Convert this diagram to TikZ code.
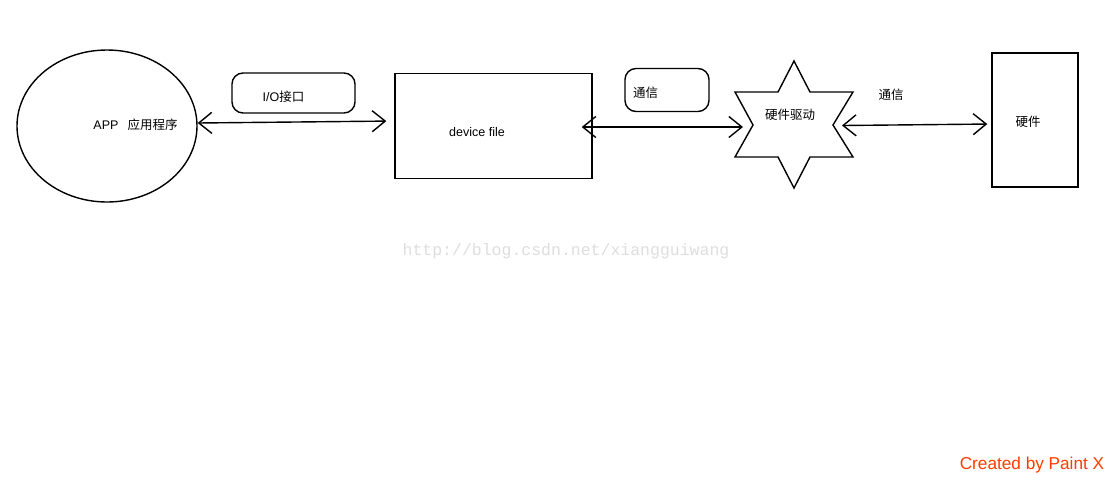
\documentclass[tikz,border=0pt]{standalone}
\usepackage{fontspec}
\setmainfont{Liberation Sans}
\newfontfamily\cjk{Noto Sans CJK SC}
\newfontfamily\wmfont{Liberation Mono}
\usetikzlibrary{shapes.geometric,arrows.meta}
\begin{document}
\begin{tikzpicture}[x=1pt,y=-1pt,
  outline/.style={draw=black,line width=1.4pt},
  lbl/.style={font=\fontsize{12.5}{14}\selectfont,inner sep=0pt},
  pill/.style={outline,rounded corners=11pt,inner sep=0pt},
  biarrow/.style={line width=1.4pt,
    {Straight Barb[length=13pt,width=21pt]}-{Straight Barb[length=13pt,width=21pt]}}]
\useasboundingbox[fill=white] (0,0) rectangle (1112,480);
% shapes
\node[outline,ellipse,minimum width=180pt,minimum height=152pt,inner sep=0pt] (app) at (107,126) {};
\node[outline,rectangle,minimum width=197pt,minimum height=105pt,inner sep=0pt] (dev) at (493.5,126) {};
\node[outline,rectangle,minimum width=86pt,minimum height=134pt,inner sep=0pt] (hw) at (1035,120) {};
\node[pill,minimum width=123pt,minimum height=40pt] (io) at (293.5,93) {};
\node[pill,minimum width=84pt,minimum height=43pt] (comm1) at (667,90) {};
\node[star,star points=6,star point ratio=1.65,minimum size=127pt,inner sep=0pt] (drv) at (794,125) {};
\draw[outline,line join=miter] (794,61) -- (810,92) -- (853,92) -- (833,125) -- (853,157) -- (810,157)
  -- (794,188) -- (778,157) -- (735,157) -- (753,125) -- (735,92) -- (778,92) -- cycle;
% texts
\node[lbl] (appt) at (135.5,125) {APP\hspace{9pt}{\cjk 应用程序}};
\node[lbl] (iot) at (283.5,97) {I/O{\cjk 接口}};
\node[lbl] (devt) at (477,132) {device file};
\node[lbl] (c1t) at (645.5,93) {\cjk 通信};
\node[lbl] (drvt) at (790,115) {\cjk 硬件驱动};
\node[lbl] (c2t) at (891,95) {\cjk 通信};
\node[lbl] (hwt) at (1028,122) {\cjk 硬件};
% connectors
\draw[biarrow,shorten >=8pt] ([yshift=3pt]app.east) -- ([yshift=5pt]dev.west);
\draw[biarrow,shorten <=-11pt,shorten >=51pt] ([yshift=-1pt]dev.east) -- ([yshift=-2pt]drv.center);
\draw[biarrow,shorten <=48pt,shorten >=4pt] ([yshift=-1pt]drv.center) -- ([yshift=-4pt]hw.west);
% watermark and credit
\node[inner sep=0pt,text=black!13,font=\wmfont\fontsize{16.5}{18}\selectfont] (wm) at (566,251) {http://blog.csdn.net/xiangguiwang};
\node[inner sep=0pt,text={rgb,255:red,255;green,60;blue,0},font=\fontsize{17.2}{19}\selectfont] (credit) at (1032,465) {Created by Paint X};
\end{tikzpicture}
\end{document}
